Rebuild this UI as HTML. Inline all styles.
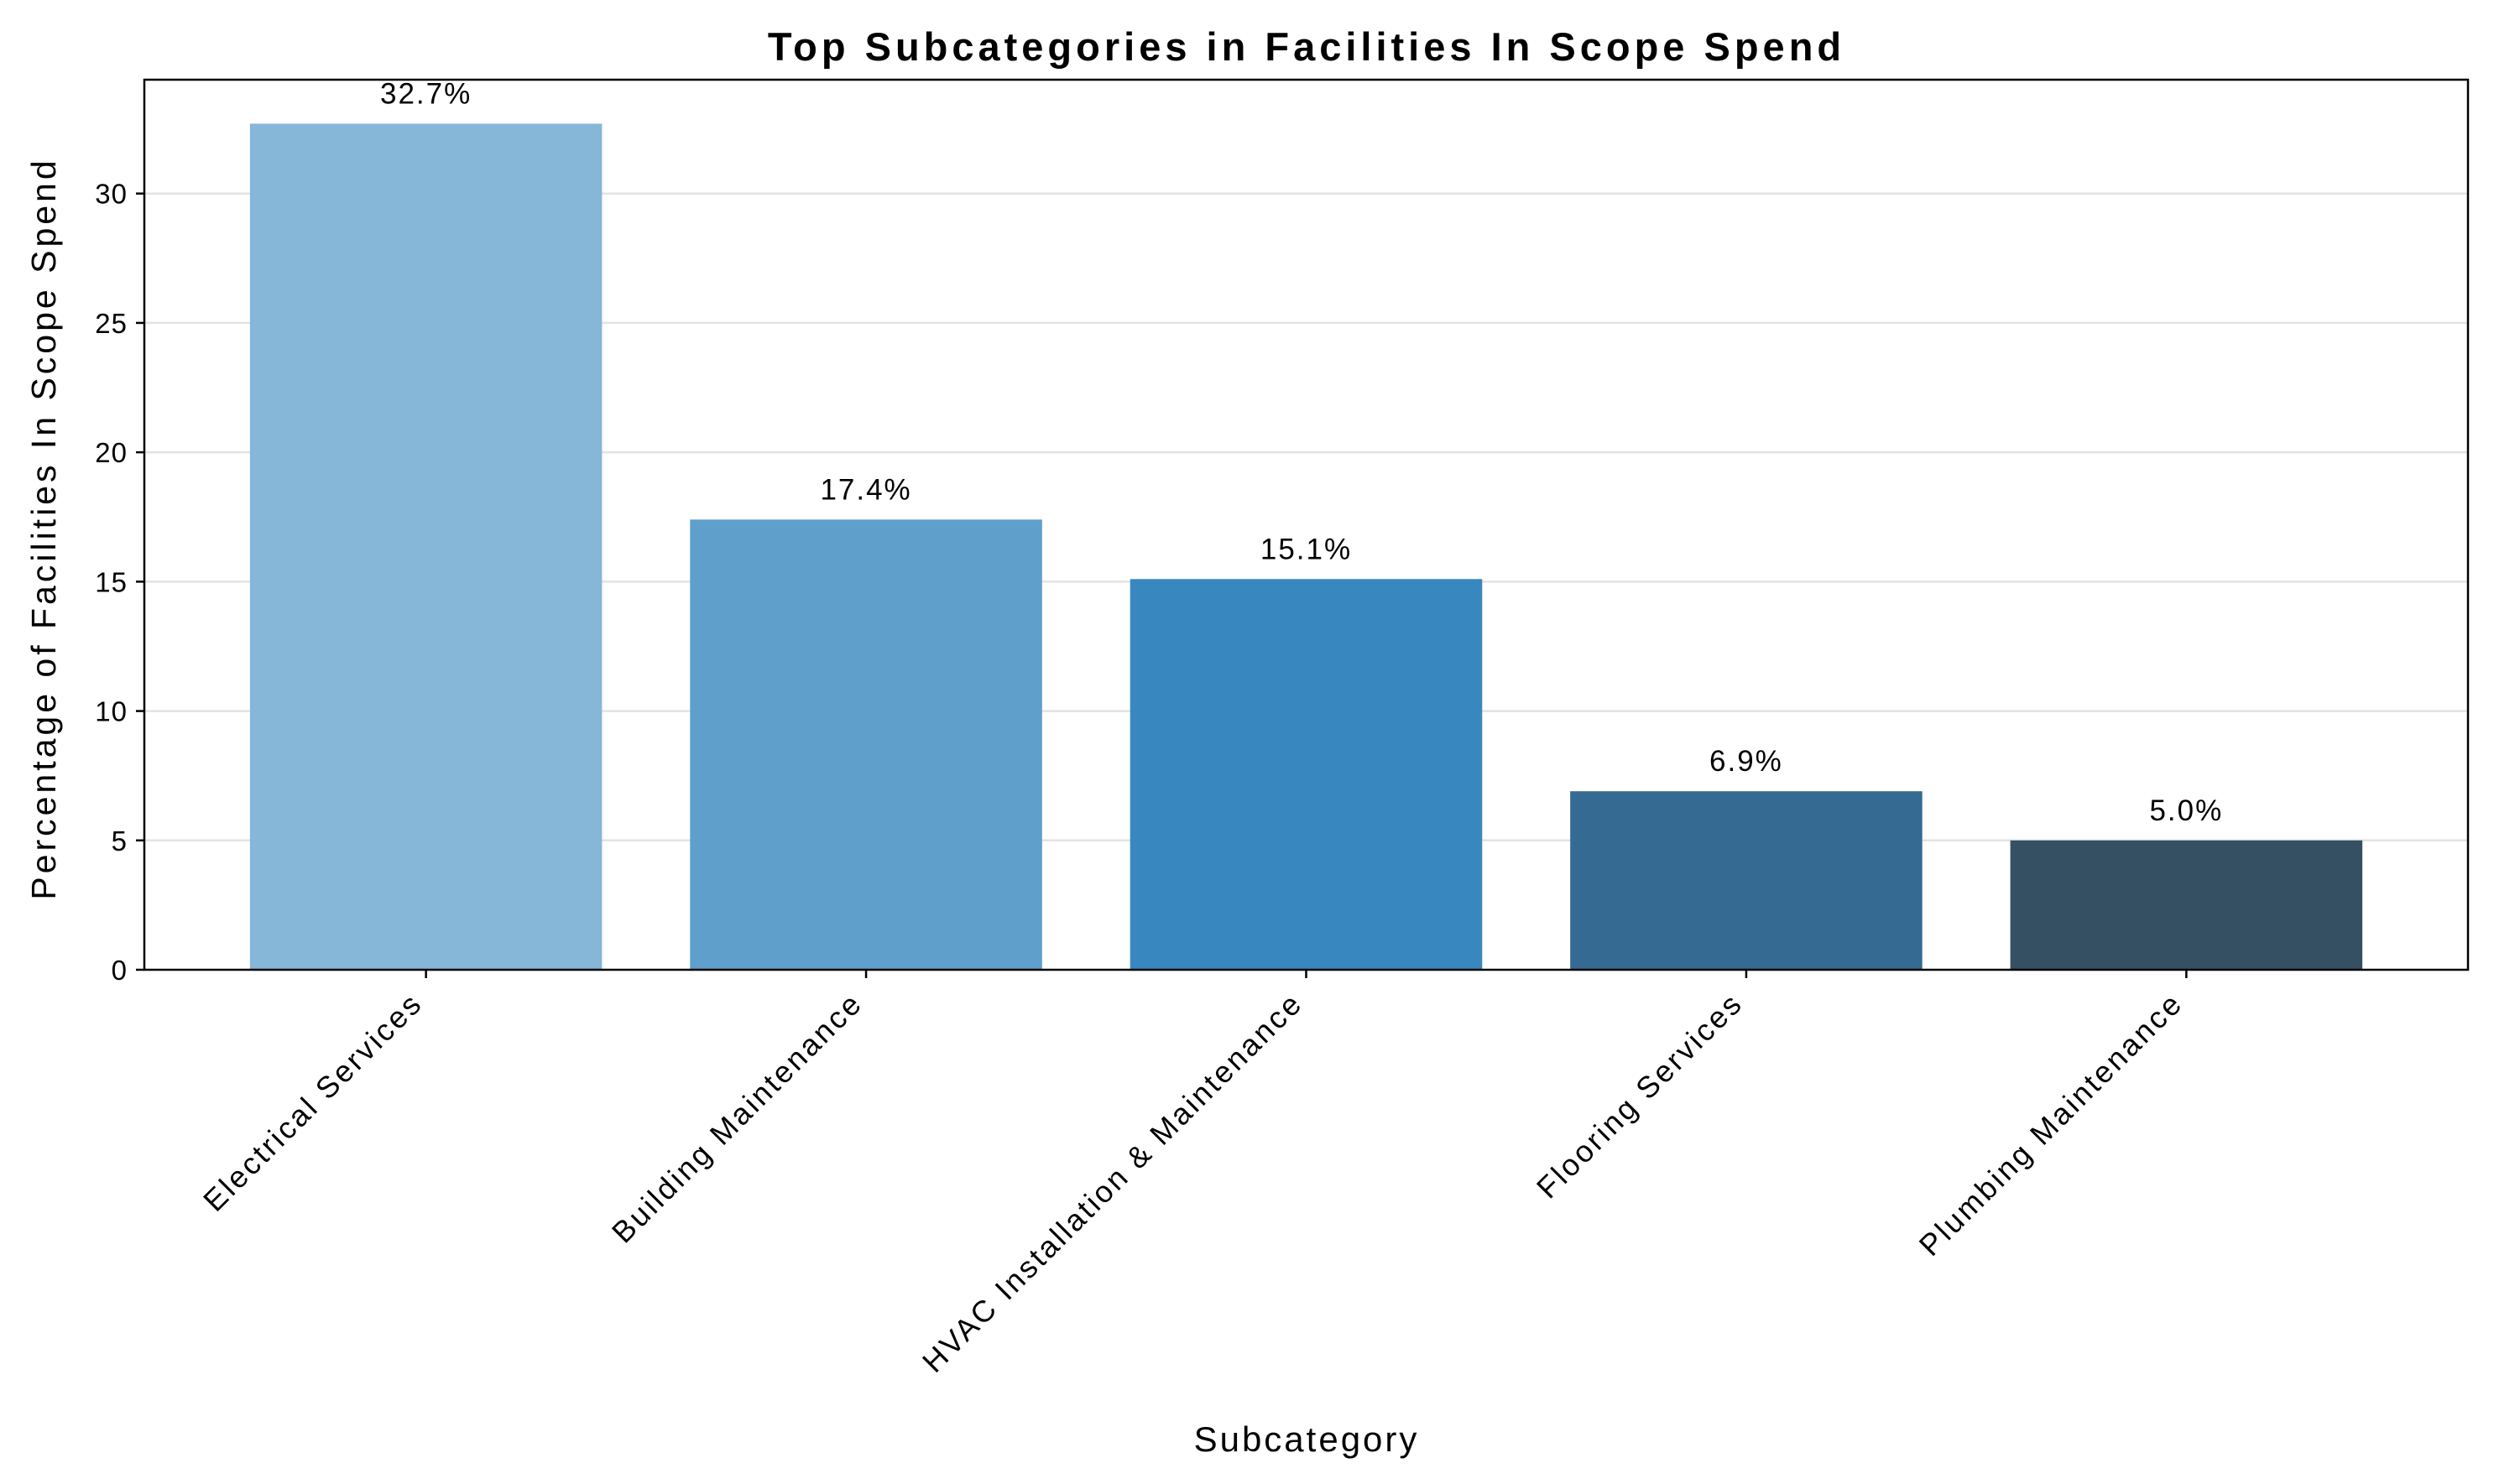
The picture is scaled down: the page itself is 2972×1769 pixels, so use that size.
<!DOCTYPE html>
<html><head><meta charset="utf-8"><style>
html,body{margin:0;padding:0;background:#fff;}
svg{display:block;font-family:"Liberation Sans","Noto Sans CJK JP",sans-serif;}
</style></head><body>
<svg id="chart" width="2972" height="1769" viewBox="0 0 2972 1769">
<rect x="0" y="0" width="2972" height="1769" fill="#fff"/>
<text x="1557" y="72" text-anchor="middle" font-size="47" font-weight="bold" letter-spacing="5">Top Subcategories in Facilities In Scope Spend</text>
<g id="grid"></g><g id="bars"></g><g id="ticks"></g>
<rect x="172" y="95" width="2769" height="1061" fill="none" stroke="#000" stroke-width="2.5"/>
<text x="1557" y="1730" text-anchor="middle" font-size="42" letter-spacing="3">Subcategory</text>
<text transform="translate(66,630) rotate(-90)" text-anchor="middle" font-size="41" letter-spacing="4">Percentage of Facilities In Scope Spend</text>
</svg>
<script>
const categories = ["Electrical Services","Building Maintenance","HVAC Installation & Maintenance","Flooring Services","Plumbing Maintenance"];
const values = [32.7, 17.4, 15.1, 6.9, 5.0];
const valueLabels = ["32.7%","17.4%","15.1%","6.9%","5.0%"];
const yTicks = [0,5,10,15,20,25,30];
const colors = ["#86b6d8","#5f9fcb","#3888bf","#356b92","#355063"];

const L=172,R=2941,T=95,B=1156, yMax=34.4, xMin=-0.64, xMax=4.64;
const NS="http://www.w3.org/2000/svg";
function y(v){return B-(v/yMax)*(B-T);}
function x(i){return L+(i-xMin)/(xMax-xMin)*(R-L);}
const bw=0.8*(R-L)/(xMax-xMin);
function mk(t,a,parent){const e=document.createElementNS(NS,t);for(const k in a)e.setAttribute(k,a[k]);document.getElementById(parent).appendChild(e);return e;}

yTicks.forEach(v=>{
  if(v>0){const g=mk('line',{x1:L,x2:R,y1:y(v),y2:y(v),stroke:'#e3e3e3','stroke-width':2.5},'grid');
  
  }
  const t=mk('line',{x1:L-10,x2:L,y1:y(v),y2:y(v),stroke:'#000','stroke-width':2.5},'ticks');
  
  
  const l=mk('text',{x:L-20,y:y(v)+12,'text-anchor':'end','font-size':33,'letter-spacing':1},'ticks');
  l.textContent=v;
  
  
});
categories.forEach((c,i)=>{
  const cx=x(i);
  const r=mk('rect',{x:cx-bw/2,y:y(values[i]),width:bw,height:B-y(values[i]),fill:colors[i]},'bars');
  
  
  const vl=mk('text',{x:cx,y:y(values[i])-24,'text-anchor':'middle','font-size':35,'letter-spacing':2},'bars');
  vl.textContent=valueLabels[i];
  
  
  const tk=mk('line',{x1:cx,x2:cx,y1:B,y2:B+10,stroke:'#000','stroke-width':2.5},'ticks');
  
  
  const tl=mk('text',{transform:`translate(${cx-2},${B+42}) rotate(-45)`,'text-anchor':'end','font-size':36,'letter-spacing':3},'ticks');
  tl.textContent=c;
  
  
});
</script>
</body></html>
